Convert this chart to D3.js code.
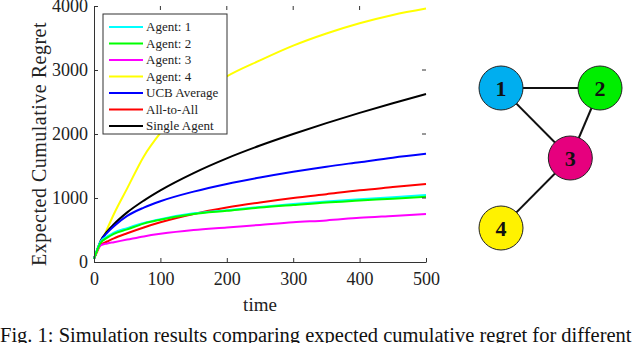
<!DOCTYPE html>
<html>
<head>
<meta charset="utf-8">
<script src="https://cdn.jsdelivr.net/npm/d3@7"></script>
<style>
  body { margin: 0; background: #fff; }
  svg { display: block; }
  text { font-family: 'Liberation Serif', 'Times New Roman', serif; }
</style>
</head>
<body>
<svg></svg>
<script>
const w = 640;
const h = 343;

// time samples and series values
const times = [0, 5, 10, 20, 30, 50, 75, 100, 150, 200, 250, 300, 350, 400, 450, 500];
const agent1 = [50, 200, 320, 400, 460, 530, 610, 670, 760, 810, 860, 905, 945, 980, 1010, 1045];
const agent2 = [50, 190, 300, 380, 440, 510, 600, 660, 750, 800, 850, 890, 930, 960, 990, 1020];
const agent3 = [50, 180, 260, 290, 310, 350, 400, 440, 500, 540, 580, 620, 650, 690, 720, 750];
const agent4 = [50, 160, 280, 520, 750, 1150, 1650, 2016, 2550, 2900, 3150, 3380, 3570, 3730, 3860, 3960];
const ucbAvg = [50, 190, 320, 460, 560, 720, 850, 950, 1100, 1220, 1320, 1410, 1490, 1560, 1630, 1690];
const allToAll = [50, 180, 270, 320, 370, 450, 540, 620, 750, 850, 930, 1000, 1060, 1120, 1170, 1220];
const single = [50, 195, 330, 477, 590, 775, 960, 1120, 1390, 1620, 1820, 2000, 2170, 2330, 2480, 2625];

const seriesNames = ['Agent: 1', 'Agent: 2', 'Agent: 3', 'Agent: 4', 'UCB Average', 'All-to-All', 'Single Agent'];
const seriesColors = ['#00ffff', '#00ff00', '#ff00ff', '#ffff00', '#0000ff', '#ff0000', '#000000'];
const seriesValues = [agent1, agent2, agent3, agent4, ucbAvg, allToAll, single];

const xTicks = [0, 100, 200, 300, 400, 500];
const yTicks = [0, 1000, 2000, 3000, 4000];

// network graph
const nodeIds = ['1', '2', '3', '4'];
const nodeColors = ['#00aeef', '#00ee00', '#e6007e', '#fff200'];
const nodeX = [0, 1, 0.7, 0];
const nodeY = [0, 0, 1, 2];
const edges = [[0, 1], [0, 2], [1, 2], [2, 3]];

const svg = d3.select('svg').attr('width', w).attr('height', h);

const x = d3.scaleLinear().domain([0, 500]).range([94, 426]);
const y = d3.scaleLinear().domain([0, 4000]).range([262, 6]);

// lines drawn first so axes sit on top
const line = d3
  .line()
  .x((d, i) => x(times[i]))
  .y(d => y(d))
  .curve(d3.curveMonotoneX);

const drawOrder = [3, 6, 4, 5, 2, 0, 1];
drawOrder.forEach(k => {
  svg
    .append('path')
    .attr('d', line(seriesValues[k]))
    .attr('fill', 'none')
    .attr('stroke', seriesColors[k])
    .attr('stroke-width', 2);
});

// bottom axis
const xAxis = svg
  .append('g')
  .attr('transform', 'translate(0,262)')
  .call(d3.axisBottom(x).tickValues(xTicks).tickFormat(d3.format('d')).tickSizeInner(-4).tickSizeOuter(0).tickPadding(10));
xAxis.select('.domain').attr('stroke', '#333');
xAxis.selectAll('.tick line').attr('stroke', '#333');
xAxis.selectAll('text').style('font-size', '18px').style('font-family', "'Liberation Serif', serif").attr('fill', '#222');

// left axis
const yAxis = svg
  .append('g')
  .attr('transform', 'translate(94,0)')
  .call(d3.axisLeft(y).tickValues(yTicks).tickFormat(d3.format('d')).tickSizeInner(-4).tickSizeOuter(0).tickPadding(6));
yAxis.select('.domain').attr('stroke', '#333');
yAxis.selectAll('.tick line').attr('stroke', '#333');
yAxis.selectAll('text').style('font-size', '18px').style('font-family', "'Liberation Serif', serif").attr('fill', '#222');

// top and right ticks only
svg
  .selectAll('.toptick')
  .data(xTicks.slice(1, 5))
  .enter()
  .append('line')
  .attr('x1', d => x(d))
  .attr('x2', d => x(d))
  .attr('y1', 6)
  .attr('y2', 10)
  .attr('stroke', '#333');

svg
  .selectAll('.righttick')
  .data(yTicks.slice(1, 4))
  .enter()
  .append('line')
  .attr('x1', 426)
  .attr('x2', 422)
  .attr('y1', d => y(d))
  .attr('y2', d => y(d))
  .attr('stroke', '#333');

// axis labels
svg
  .append('text')
  .text('time')
  .attr('x', 260)
  .attr('y', 311)
  .attr('text-anchor', 'middle')
  .style('font-size', '19px')
  .attr('fill', '#222');

svg
  .append('text')
  .text('Expected Cumulative Regret')
  .attr('transform', 'translate(46,266) rotate(-90)')
  .attr('text-anchor', 'start')
  .style('font-size', '20px')
  .style('letter-spacing', '0.5px')
  .attr('fill', '#222');

// legend
const legend = svg.append('g');
legend
  .append('rect')
  .attr('x', 103)
  .attr('y', 14)
  .attr('width', 124)
  .attr('height', 120)
  .attr('fill', '#fff')
  .attr('stroke', '#333')
  .attr('stroke-width', 1);

seriesNames.forEach((name, i) => {
  const ly = 27 + i * 16.5;
  legend
    .append('line')
    .attr('x1', 109)
    .attr('x2', 143)
    .attr('y1', ly)
    .attr('y2', ly)
    .attr('stroke', seriesColors[i])
    .attr('stroke-width', 2);
  legend
    .append('text')
    .text(name)
    .attr('x', 146)
    .attr('y', ly + 4)
    .style('font-size', '13px')
    .attr('fill', '#222');
});

// caption
svg
  .append('text')
  .text('Fig. 1: Simulation results comparing expected cumulative regret for different')
  .attr('x', 0)
  .attr('y', 342)
  .style('font-size', '20.5px')
  .attr('fill', '#111');

// network graph
const gx = d3.scaleLinear().domain([0, 1]).range([501, 600]);
const gy = d3.scaleLinear().domain([0, 1]).range([88, 158]);

svg
  .selectAll('.edge')
  .data(edges)
  .enter()
  .append('line')
  .attr('x1', d => gx(nodeX[d[0]]))
  .attr('y1', d => gy(nodeY[d[0]]))
  .attr('x2', d => gx(nodeX[d[1]]))
  .attr('y2', d => gy(nodeY[d[1]]))
  .attr('stroke', '#111')
  .attr('stroke-width', 2);

const nodes = svg
  .selectAll('.node')
  .data(nodeIds)
  .enter()
  .append('g')
  .attr('transform', (d, i) => `translate(${gx(nodeX[i])},${gy(nodeY[i])})`);

nodes
  .append('circle')
  .attr('r', 22)
  .attr('fill', (d, i) => nodeColors[i])
  .attr('stroke', '#222')
  .attr('stroke-width', 1);

nodes
  .append('text')
  .text(d => d)
  .attr('text-anchor', 'middle')
  .attr('dy', '0.35em')
  .style('font-size', '22px')
  .style('font-weight', 'bold')
  .attr('fill', '#111');
</script>
</body>
</html>
